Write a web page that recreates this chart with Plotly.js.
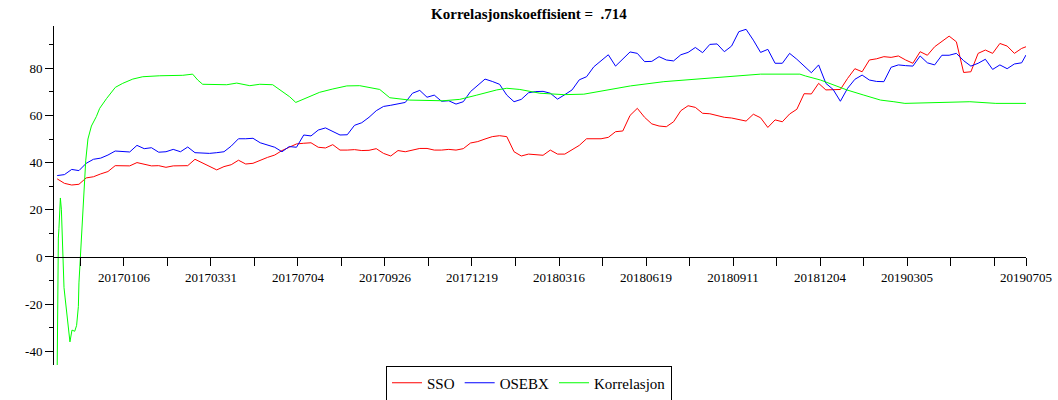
<!DOCTYPE html>
<html>
<head>
<meta charset="utf-8">
<script src="https://cdn.plot.ly/plotly-3.0.1.min.js"></script>
<style>html,body{margin:0;padding:0;background:#fff;}</style>
</head>
<body>
<div id="chart" style="width:1058px;height:400px;"></div>
<script>
// Observation (trading-day) index used as x; every 5th observation, plus the last one
const obsIndex = [];
for (let k = 0; k < 134; k++) obsIndex.push(5 * k);
obsIndex.push(668);

const sso = [
  33.1, 31.2, 30.5, 30.8, 33.5, 34.0, 35.2, 36.2, 38.7, 38.8,
  38.6, 40.0, 39.3, 38.6, 38.7, 38.0, 38.6, 38.8, 38.7, 41.4,
  40.0, 38.3, 36.9, 38.3, 39.1, 41.0, 39.4, 39.7, 41.1, 42.2,
  43.2, 45.1, 46.5, 47.9, 48.2, 48.4, 46.5, 46.2, 47.6, 45.3,
  45.3, 45.5, 45.1, 45.2, 45.9, 43.9, 42.8, 45.1, 44.6, 45.3,
  46.0, 46.0, 45.3, 45.3, 45.6, 45.3, 45.9, 48.3, 48.9, 50.0,
  51.0, 51.4, 51.0, 44.6, 42.8, 43.6, 43.2, 43.1, 45.3, 43.6,
  43.6, 45.3, 47.3, 50.1, 50.0, 50.1, 50.7, 53.1, 53.4, 60.0,
  63.0, 59.2, 56.4, 55.5, 55.2, 57.3, 62.0, 64.1, 63.4, 60.9,
  60.7, 60.0, 59.2, 58.9, 58.1, 57.6, 60.5, 59.0, 54.9, 58.1,
  57.3, 60.6, 62.6, 69.2, 69.1, 73.6, 70.8, 71.0, 71.0, 75.7,
  79.8, 78.5, 83.5, 84.0, 84.9, 84.6, 85.2, 83.5, 82.1, 87.0,
  85.5, 89.1, 91.5, 93.6, 91.2, 78.2, 78.5, 86.3, 87.7, 86.3,
  90.5, 89.4, 86.3, 88.4, 89.1
];

const osebx = [
  34.5, 34.9, 37.1, 36.6, 39.7, 41.4, 41.9, 43.2, 44.9, 44.6,
  44.5, 47.3, 45.9, 46.3, 44.4, 44.6, 45.6, 44.6, 46.6, 44.2,
  43.9, 43.9, 44.2, 44.6, 47.0, 50.1, 50.1, 50.3, 48.4, 47.6,
  46.5, 44.6, 46.8, 46.5, 51.7, 51.3, 53.8, 54.7, 53.1, 51.7,
  51.8, 55.8, 56.9, 59.2, 62.0, 63.8, 64.3, 65.0, 65.5, 69.4,
  70.6, 67.7, 68.6, 66.0, 66.2, 64.8, 65.8, 70.1, 72.9, 75.4,
  74.4, 73.2, 68.6, 65.8, 66.8, 69.6, 70.1, 70.2, 69.4, 66.9,
  68.8, 70.8, 75.1, 76.4, 80.6, 83.2, 85.7, 80.9, 83.8, 86.9,
  86.3, 82.8, 82.9, 84.9, 83.5, 83.1, 85.7, 86.7, 88.8, 86.6,
  90.1, 90.3, 87.0, 89.4, 95.5, 96.5, 91.9, 86.7, 88.0, 82.1,
  82.1, 86.3, 83.8, 80.9, 78.1, 81.4, 73.6, 71.0, 66.0, 71.5,
  75.3, 77.1, 75.0, 74.4, 74.3, 80.4, 81.4, 81.1, 80.9, 85.2,
  82.3, 81.4, 85.5, 85.5, 86.3, 83.2, 80.9, 82.1, 83.8, 79.5,
  81.4, 79.8, 81.8, 82.3, 85.6
];

// Correlation series (own observation positions)
const corrIndex = [
  0, 0.3, 0.8, 1.2, 2.2, 2.9, 3.3, 3.8, 4.7, 5.4,
  6.6, 7.9, 8.8, 10.2, 12.1, 13.4, 14.6, 15.0, 16.0, 16.9,
  17.8, 19.7, 21.2, 23.6, 27.0, 29.3, 34.1, 40.1, 45.2, 52.1,
  59.0, 70.7, 86.6, 93.4, 96.9, 100.3, 116.9, 123.8, 132.8, 139.7,
  148.6, 153.4, 160.3, 164.5, 169.3, 181.0, 190.0, 199.7, 208.6, 222.4,
  229.3, 243.1, 265.9, 277.6, 289.3, 303.1, 310.0, 319.0, 332.8, 349.3,
  363.1, 376.9, 395.3, 418.3, 441.0, 466.6, 485.0, 512.1, 516.0, 526.3,
  535.5, 544.5, 556.2, 567.7, 576.9, 584.5, 629.3, 647.2, 668
];
const korrelasjon = [
  -47, -20, 8, 12, 25, 20, 12, 0, -13, -17,
  -24, -30, -36, -31, -31.5, -29, -21, -11, 1, 10,
  20, 41, 50, 55.5, 59.5, 63, 67.2, 71.9, 73.6, 75.4,
  76.4, 76.8, 77, 77.5, 75, 73.2, 73, 73.7, 72.6, 73.2,
  73, 70.8, 67.9, 65.5, 66.8, 69.8, 71.2, 72.5, 72.6, 71,
  67.5, 66.5, 66.2, 66.8, 68.6, 70.8, 71.5, 71, 69.4, 68.8,
  69, 70.5, 72.5, 74.3, 75.4, 76.7, 77.5, 77.5, 76.7, 75,
  72.9, 70.8, 68.6, 66.5, 65.8, 65.1, 65.8, 65.1, 65.1
];

const xTickIdx = [16, 46, 76, 106, 136, 166, 196, 226, 256, 286, 316, 346, 376, 406, 436, 466, 496, 526, 556, 586, 616, 646, 668];
const xTickLabels = ['', '20170106', '', '20170331', '', '20170704', '', '20170926', '', '20171219', '', '20180316', '', '20180619', '', '20180911', '', '20181204', '', '20190305', '', '', '20190705'];
const yTickVals = [-40, -20, 0, 20, 40, 60, 80];
const yTickLabels = ['-40', '-20', '0', '20', '40', '60', '80'];
const yMinorVals = [-30, -10, 10, 30, 50, 70, 90];

const yMin = -45.8, yMax = 97.9;
const serif = '"Liberation Serif", "Times New Roman", serif';

const traces = [
  {x: obsIndex, y: sso, name: 'SSO', type: 'scatter', mode: 'lines', line: {color: '#ff0000', width: 1}},
  {x: obsIndex, y: osebx, name: 'OSEBX', type: 'scatter', mode: 'lines', line: {color: '#0000ff', width: 1}},
  {x: corrIndex, y: korrelasjon, name: 'Korrelasjon', type: 'scatter', mode: 'lines', line: {color: '#00ff00', width: 1}}
];

const layout = {
  width: 1058, height: 400,
  margin: {l: 54, r: 32, t: 26, b: 35},
  paper_bgcolor: '#ffffff', plot_bgcolor: '#ffffff',
  font: {family: serif, size: 13, color: '#000000'},
  title: {
    text: '<b>Korrelasjonskoeffisient = \u00a0.714</b>',
    font: {family: serif, size: 15, color: '#000000'},
    x: 0.5, xref: 'container', xanchor: 'center',
    y: 1 - 14 / 400, yref: 'container', yanchor: 'middle'
  },
  xaxis: {
    range: [-2.2, 668],
    anchor: 'free', position: (0 - yMin) / (yMax - yMin),
    tickmode: 'array', tickvals: xTickIdx, ticktext: xTickLabels,
    ticks: 'outside', ticklen: 8, tickwidth: 1, tickcolor: '#000',
    showline: true, linecolor: '#000', linewidth: 1,
    showgrid: false, zeroline: false,
    tickfont: {family: serif, size: 13, color: '#000'}
  },
  yaxis: {
    range: [yMin, yMax],
    tickmode: 'array', tickvals: yTickVals, ticktext: yTickLabels,
    ticks: 'outside', ticklen: 8, tickwidth: 1, tickcolor: '#000',
    showline: true, linecolor: '#000', linewidth: 1,
    showgrid: false, zeroline: false,
    tickfont: {family: serif, size: 13, color: '#000'},
    minor: {tickmode: 'array', tickvals: yMinorVals, ticks: 'outside', ticklen: 4, tickwidth: 1, tickcolor: '#000', showgrid: false}
  },
  showlegend: true,
  legend: {
    orientation: 'h',
    xref: 'container', yref: 'container',
    x: 0.5, xanchor: 'center',
    y: 1 - 365.5 / 400, yanchor: 'top',
    bgcolor: '#ffffff', bordercolor: '#000000', borderwidth: 1,
    font: {family: serif, size: 15, color: '#000'}
  }
};

Plotly.newPlot('chart', traces, layout, {staticPlot: true, displayModeBar: false});
</script>
</body>
</html>
